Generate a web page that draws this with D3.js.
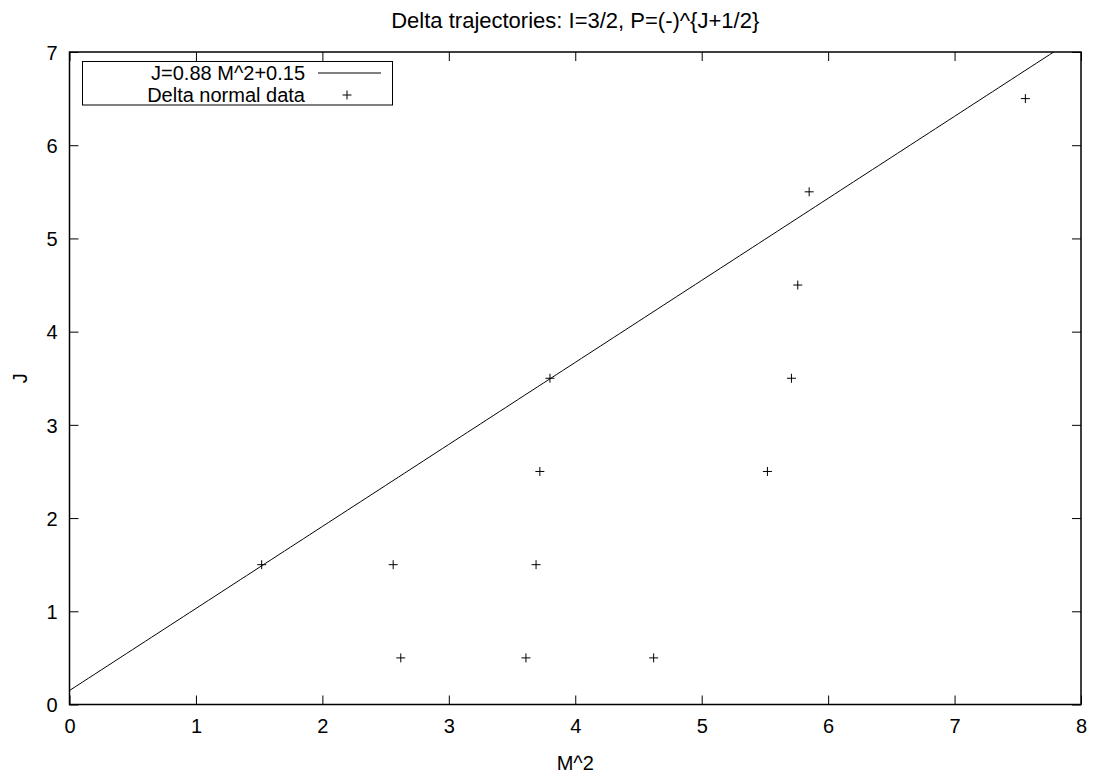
<!DOCTYPE html>
<html>
<head>
<meta charset="utf-8">
<script src="https://cdn.jsdelivr.net/npm/d3@7"></script>
<style>
  html, body { margin: 0; padding: 0; background: #fff; }
  svg { display: block; }
  text { font-family: "Liberation Sans", Arial, sans-serif; fill: #000; }
</style>
</head>
<body>
<svg id="chart" width="1094" height="777"></svg>
<script>
// ---- data ----
const m2Values = [1.52, 2.56, 2.62, 3.61, 3.69, 3.72, 3.80, 4.62, 5.52, 5.71, 5.76, 5.85, 7.56];
const jValues  = [1.5, 1.5, 0.5, 0.5, 1.5, 2.5, 3.5, 0.5, 2.5, 3.5, 4.5, 5.5, 6.5];
const fitSlope = 0.88;
const fitIntercept = 0.15;
const xTicks = [0, 1, 2, 3, 4, 5, 6, 7, 8];
const yTicks = [0, 1, 2, 3, 4, 5, 6, 7];
const titleText = "Delta trajectories: I=3/2, P=(-)^{J+1/2}";
const xLabel = "M^2";
const yLabel = "J";
const legendLabels = ["J=0.88 M^2+0.15", "Delta normal data"];

// ---- layout ----
const L = 69.5, R = 1081, T = 52, B = 704.5;
const FS = 20;
const svg = d3.select("#chart");

const x = d3.scaleLinear().domain([0, 8]).range([L, R]);
const y = d3.scaleLinear().domain([0, 7]).range([B, T]);

svg.append("defs").append("clipPath").attr("id", "clip")
  .append("rect").attr("x", L).attr("y", T).attr("width", R - L).attr("height", B - T);

// Fit line
const fitPts = d3.range(0, 8.001, 0.05).map(v => [v, fitSlope * v + fitIntercept]);
svg.append("path")
  .attr("clip-path", "url(#clip)")
  .attr("d", d3.line().x(d => x(d[0])).y(d => y(d[1]))(fitPts))
  .attr("fill", "none").attr("stroke", "#000").attr("stroke-width", 1);

// Data points as "+"
const s = 4.5;
const pts = svg.append("g");
m2Values.forEach((m, i) => {
  const cx = x(m), cy = y(jValues[i]);
  pts.append("path")
    .attr("d", `M${cx - s},${cy}H${cx + s}M${cx},${cy - s}V${cy + s}`)
    .attr("stroke", "#000").attr("stroke-width", 1).attr("fill", "none");
});

// Axes (inward ticks, mirrored)
const tickLen = 9;
const gx = svg.append("g").attr("transform", `translate(0,${B})`)
  .call(d3.axisBottom(x).tickValues(xTicks).tickSize(-tickLen).tickFormat(d3.format("d")));
const gxt = svg.append("g").attr("transform", `translate(0,${T})`)
  .call(d3.axisTop(x).tickValues(xTicks).tickSize(-tickLen).tickFormat(""));
const gy = svg.append("g").attr("transform", `translate(${L},0)`)
  .call(d3.axisLeft(y).tickValues(yTicks).tickSize(-tickLen).tickFormat(d3.format("d")));
const gyr = svg.append("g").attr("transform", `translate(${R},0)`)
  .call(d3.axisRight(y).tickValues(yTicks).tickSize(-tickLen).tickFormat(""));

[gx, gxt, gy, gyr].forEach(g => {
  g.select(".domain").remove();
  g.selectAll(".tick line").attr("stroke", "#000").attr("stroke-width", 1);
  g.selectAll("text").attr("font-size", FS).attr("font-family", "Liberation Sans, Arial, sans-serif").attr("fill", "#000");
});
svg.append("rect").attr("x", L).attr("y", T).attr("width", R - L).attr("height", B - T)
  .attr("fill", "none").attr("stroke", "#000").attr("stroke-width", 1.5);

gx.selectAll("text").attr("dy", null).attr("y", 733 - B);
gy.selectAll("text").attr("x", -12).attr("dy", "0.36em");

// Title
svg.append("text").attr("x", (L + R) / 2).attr("y", 28).attr("text-anchor", "middle")
  .attr("font-size", 22).text(titleText);
// Axis labels
svg.append("text").attr("x", (L + R) / 2).attr("y", 770).attr("text-anchor", "middle")
  .attr("font-size", FS).text(xLabel);
svg.append("text").attr("transform", `translate(27,${(T + B) / 2}) rotate(-90)`)
  .attr("text-anchor", "middle").attr("font-size", FS).text(yLabel);

// Legend
const lg = svg.append("g");
lg.append("rect").attr("x", 82.5).attr("y", 61.5).attr("width", 310).attr("height", 43.5)
  .attr("fill", "#fff").attr("stroke", "#000").attr("stroke-width", 1);
const rowY = [73, 95];
lg.append("text").attr("x", 305).attr("y", rowY[0]).attr("dy", "0.36em").attr("text-anchor", "end")
  .attr("font-size", FS).text(legendLabels[0]);
lg.append("line").attr("x1", 318).attr("x2", 381).attr("y1", rowY[0]).attr("y2", rowY[0])
  .attr("stroke", "#000").attr("stroke-width", 1);
lg.append("text").attr("x", 305).attr("y", rowY[1]).attr("dy", "0.36em").attr("text-anchor", "end")
  .attr("font-size", FS).text(legendLabels[1]);
lg.append("path").attr("d", `M${347 - s},${rowY[1]}H${347 + s}M347,${rowY[1] - s}V${rowY[1] + s}`)
  .attr("stroke", "#000").attr("stroke-width", 1);
</script>
</body>
</html>
